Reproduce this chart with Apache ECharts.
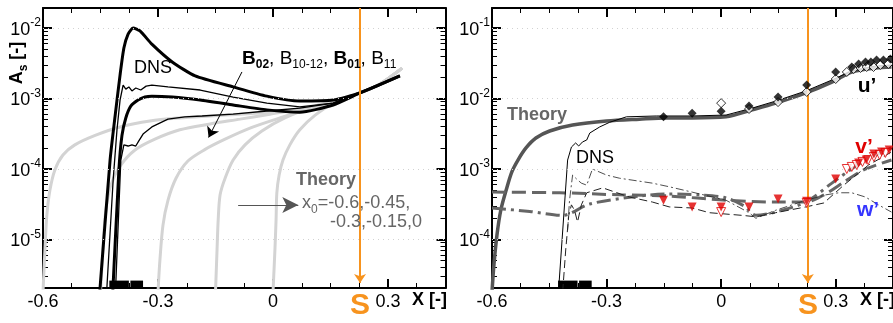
<!DOCTYPE html>
<html>
<head>
<meta charset="utf-8">
<script src="https://cdn.jsdelivr.net/npm/echarts@6/dist/echarts.min.js"></script>
<style>
  html, body { margin: 0; padding: 0; background: #fff; }
  #chart { width: 893px; height: 323px; }
</style>
</head>
<body>
<div id="chart"></div>
<script>
// ---- data: X [-] positions and amplitudes (plain values, drawn on log axes) ----

// left panel, DNS cases
const b02X = [-0.452, -0.425, -0.410, -0.399, -0.389, -0.378, -0.365, -0.347, -0.316, -0.263, -0.203, -0.104, -0.016, 0.070, 0.157, 0.227, 0.331];
const b02Y = [1.8e-6, 1.34e-4, 6.9e-4, 2.15e-3, 5.2e-3, 8.2e-3, 1.0e-2, 9.1e-3, 5.9e-3, 3.3e-3, 2.09e-3, 1.46e-3, 1.08e-3, 9.2e-4, 9.5e-4, 1.2e-3, 2.09e-3];
const b1012X = [-0.434, -0.417, -0.407, -0.399, -0.391, -0.384, -0.376, -0.368, -0.358, -0.345, -0.331, -0.316, -0.274, -0.190, -0.104, -0.016, 0.070, 0.157, 0.227, 0.331];
const b1012Y = [1.8e-6, 7.0e-5, 3.6e-4, 9.5e-4, 1.55e-3, 1.36e-3, 1.46e-3, 1.28e-3, 1.41e-3, 1.32e-3, 1.50e-3, 1.55e-3, 1.46e-3, 1.32e-3, 1.05e-3, 8.6e-4, 7.6e-4, 8.6e-4, 1.2e-3, 2.09e-3];
const b01X = [-0.418, -0.402, -0.394, -0.384, -0.371, -0.352, -0.334, -0.316, -0.263, -0.190, -0.104, -0.016, 0.070, 0.157, 0.227, 0.331];
const b01Y = [1.8e-6, 9.7e-5, 3.0e-4, 5.3e-4, 7.8e-4, 9.5e-4, 1.05e-3, 1.08e-3, 1.05e-3, 9.5e-4, 8.1e-4, 6.9e-4, 6.4e-4, 8.1e-4, 1.2e-3, 2.09e-3];
const b11X = [-0.411, -0.397, -0.389, -0.378, -0.368, -0.358, -0.350, -0.339, -0.316, -0.274, -0.230, -0.185, -0.104, -0.016, 0.070, 0.157, 0.227, 0.331];
const b11Y = [1.8e-6, 1.34e-4, 2.2e-4, 2.12e-4, 2.2e-4, 2.12e-4, 2.5e-4, 3.13e-4, 3.95e-4, 5.1e-4, 5.5e-4, 5.65e-4, 6.0e-4, 6.65e-4, 7.3e-4, 8.6e-4, 1.2e-3, 2.09e-3];

// left panel, theory for x0 = -0.6, -0.45, -0.3, -0.15, 0
const t60X = [-0.6, -0.595, -0.590, -0.582, -0.569, -0.548, -0.517, -0.464, -0.399, -0.321, -0.243, -0.164, -0.086, -0.008, 0.070, 0.149, 0.227, 0.279, 0.337];
const t60Y = [1.8e-6, 7.1e-6, 2.2e-5, 5.0e-5, 9.7e-5, 1.58e-4, 2.2e-4, 3.0e-4, 3.95e-4, 4.8e-4, 5.3e-4, 5.65e-4, 6.0e-4, 6.4e-4, 7.1e-4, 8.6e-4, 1.2e-3, 1.61e-3, 2.7e-3];
const t45X = [-0.45, -0.443, -0.436, -0.423, -0.399, -0.360, -0.308, -0.243, -0.164, -0.086, -0.008, 0.070, 0.149, 0.227, 0.279, 0.337];
const t45Y = [1.8e-6, 8.4e-6, 2.6e-5, 5.9e-5, 1.1e-4, 1.86e-4, 2.65e-4, 3.6e-4, 4.35e-4, 5.1e-4, 6.0e-4, 7.1e-4, 8.6e-4, 1.2e-3, 1.61e-3, 2.7e-3];
const t30X = [-0.3, -0.295, -0.287, -0.274, -0.253, -0.222, -0.177, -0.125, -0.060, 0.018, 0.097, 0.162, 0.227, 0.279, 0.337];
const t30Y = [1.8e-6, 5.1e-6, 1.6e-5, 3.6e-5, 7.4e-5, 1.3e-4, 1.9e-4, 2.65e-4, 3.8e-4, 5.3e-4, 7.3e-4, 9.2e-4, 1.2e-3, 1.61e-3, 2.7e-3];
const t15X = [-0.15, -0.146, -0.143, -0.138, -0.125, -0.104, -0.073, -0.029, 0.031, 0.110, 0.175, 0.227, 0.279, 0.337];
const t15Y = [1.8e-6, 7.1e-6, 1.9e-5, 4.3e-5, 7.4e-5, 1.34e-4, 2.2e-4, 3.46e-4, 5.3e-4, 7.8e-4, 9.8e-4, 1.2e-3, 1.61e-3, 2.7e-3];
const t0X = [0, 0.005, 0.008, 0.010, 0.016, 0.026, 0.044, 0.070, 0.110, 0.162, 0.227, 0.279, 0.337];
const t0Y = [1.8e-6, 7.1e-6, 1.9e-5, 4.57e-5, 8.2e-5, 1.34e-4, 2.2e-4, 3.6e-4, 5.8e-4, 8.9e-4, 1.2e-3, 1.61e-3, 2.7e-3];

// right panel, u' theory and DNS
const thUX = [-0.600, -0.595, -0.587, -0.577, -0.563, -0.548, -0.532, -0.511, -0.485, -0.449, -0.389, -0.300, -0.214, -0.143, -0.076, 0.013, 0.081, 0.143, 0.222, 0.290, 0.342, 0.404, 0.446];
const thUY = [1.8e-5, 4.35e-5, 1.16e-4, 2.6e-4, 5.0e-4, 9.1e-4, 1.34e-3, 1.99e-3, 2.75e-3, 3.46e-3, 4.2e-3, 4.8e-3, 5.1e-3, 5.3e-3, 5.3e-3, 5.5e-3, 6.9e-3, 8.6e-3, 1.2e-2, 1.71e-2, 2.38e-2, 2.71e-2, 2.8e-2];
const dnsUX = [-0.426, -0.402, -0.392, -0.381, -0.373, -0.363, -0.352, -0.344, -0.318, -0.292, -0.248, -0.170, -0.076, 0.013, 0.081, 0.143, 0.222, 0.290, 0.342, 0.404, 0.446];
const dnsUY = [1.8e-5, 1.34e-3, 2.05e-3, 2.34e-3, 2.12e-3, 2.42e-3, 2.58e-3, 3.24e-3, 3.95e-3, 4.6e-3, 5.5e-3, 5.65e-3, 5.65e-3, 5.83e-3, 7.3e-3, 9.2e-3, 1.28e-2, 1.83e-2, 2.46e-2, 2.89e-2, 2.99e-2];

// right panel, v' and w' curves
const thVX = [-0.600, -0.423, -0.266, -0.136, 0.013, 0.143, 0.222, 0.269, 0.321, 0.373, 0.446];
const thVY = [4.7e-4, 4.6e-4, 4.3e-4, 4.14e-4, 3.6e-4, 3.4e-4, 3.4e-4, 4.3e-4, 6.5e-4, 9.7e-4, 1.34e-3];
const thWX = [-0.600, -0.501, -0.415, -0.344, -0.214, -0.136, -0.057, 0.013, 0.060, 0.091, 0.143, 0.222, 0.290, 0.334, 0.386, 0.446];
const thWY = [2.8e-4, 2.5e-4, 2.2e-4, 3.19e-4, 4.14e-4, 4.42e-4, 4.3e-4, 3.9e-4, 2.99e-4, 2.2e-4, 2.45e-4, 3.4e-4, 6.3e-4, 9.4e-4, 1.43e-3, 1.99e-3];
const dnsVX = [-0.415, -0.407, -0.399, -0.392, -0.384, -0.376, -0.366, -0.352, -0.310, -0.240, -0.180, -0.136, -0.076, -0.031, 0.055, 0.091, 0.143, 0.222, 0.269, 0.321, 0.386, 0.446];
const dnsVY = [1.8e-5, 7.1e-5, 2.2e-4, 3.1e-4, 2.6e-4, 1.77e-4, 3.1e-4, 4.6e-4, 5.4e-4, 4.0e-4, 3.4e-4, 2.9e-4, 2.8e-4, 2.4e-4, 2.2e-4, 2.1e-4, 2.4e-4, 2.9e-4, 3.3e-4, 5.9e-4, 1.14e-3, 1.74e-3];
const dnsWX = [-0.402, -0.397, -0.389, -0.376, -0.366, -0.352, -0.337, -0.300, -0.266, -0.180, -0.136, -0.076, 0.013, 0.073, 0.091, 0.143, 0.222, 0.274, 0.308, 0.342, 0.378, 0.412, 0.446];
const dnsWY = [1.36e-4, 3.6e-4, 8.2e-4, 7.0e-4, 6.3e-4, 5.9e-4, 1.0e-3, 8.2e-4, 7.4e-4, 6.3e-4, 5.6e-4, 4.7e-4, 3.6e-4, 2.4e-4, 2.0e-4, 2.6e-4, 3.6e-4, 4.3e-4, 4.6e-4, 4.6e-4, 4.0e-4, 3.1e-4, 2.45e-4];

// right panel, measurements
const uFillX = [-0.151, -0.076, 0, 0.073, 0.149, 0.224, 0.300, 0.342, 0.360, 0.378, 0.392, 0.407, 0.425, 0.443];
const uFillY = [5.5e-3, 6.2e-3, 6.6e-3, 7.8e-3, 1.05e-2, 1.55e-2, 2.38e-2, 2.8e-2, 3.09e-2, 3.3e-2, 3.3e-2, 3.52e-2, 3.52e-2, 3.63e-2];
const uOpenX = [0, 0.073, 0.149, 0.224, 0.300, 0.329, 0.347, 0.365, 0.381, 0.399, 0.417, 0.438];
const uOpenY = [8.6e-3, 7.1e-3, 8.9e-3, 1.24e-2, 1.89e-2, 2.38e-2, 2.62e-2, 2.71e-2, 2.8e-2, 2.8e-2, 2.99e-2, 3.09e-2];
const vFillX = [-0.151, -0.076, 0, 0.073, 0.149, 0.224, 0.300, 0.360, 0.380, 0.400, 0.420, 0.440];
const vFillY = [3.6e-4, 2.9e-4, 2.9e-4, 2.9e-4, 3.75e-4, 3.5e-4, 7.2e-4, 1.22e-3, 1.34e-3, 1.63e-3, 1.74e-3, 1.86e-3];
const vOpenX = [0, 0.224, 0.329, 0.342, 0.355, 0.370, 0.385, 0.400, 0.415, 0.430];
const vOpenY = [2.45e-4, 3.3e-4, 1.0e-3, 1.07e-3, 1.14e-3, 1.26e-3, 1.34e-3, 1.48e-3, 1.58e-3, 1.69e-3];

// separation point, forcing strip, axis ranges and ticks
const sepX = 0.227;
const stripSegments = [[-0.427, -0.376], [-0.372, -0.339]];
const xMajor = [-0.6, -0.3, 0, 0.3];
const xMinor = [-0.525, -0.45, -0.375, -0.225, -0.15, -0.075, 0.075, 0.15, 0.225, 0.375];
const xTickLabels = ['-0.6', '-0.3', '0', '0.3'];
const yLogRange = [[-5.688, -1.716], [-4.688, -0.716]];
const yDecades = [[-5, -4, -3, -2], [-4, -3, -2, -1]];

const FONT = '"Liberation Sans", Arial, Helvetica, sans-serif';
const ORANGE = '#f7931e';

const pts = (xs, ys) => xs.map((x, i) => [x, Math.log10(ys[i])]);

function minorLog(g) {
  const [lo, hi] = yLogRange[g];
  const out = [];
  for (let n = Math.floor(lo); n < Math.ceil(hi); n++) {
    for (let k = 2; k <= 9; k++) {
      const v = n + Math.log10(k);
      if (v > lo && v < hi) out.push(v);
    }
  }
  return out;
}

function xAxes(g) {
  const base = { gridIndex: g, type: 'value', min: -0.6, max: 0.45, splitLine: { show: false } };
  const line = { show: true, onZero: false, lineStyle: { color: '#000', width: 2 } };
  const noLine = { show: false, onZero: false };
  const major = { show: true, inside: true, length: 9, customValues: xMajor, lineStyle: { color: '#000', width: 2 } };
  const minor = { show: true, inside: true, length: 5, customValues: xMinor, lineStyle: { color: '#000', width: 1 } };
  return [
    { ...base, position: 'bottom', axisLine: line, axisTick: major,
      axisLabel: { show: true, customValues: xMajor, margin: 5, color: '#000', fontSize: 18, fontFamily: FONT,
        formatter: v => xTickLabels[xMajor.findIndex(m => Math.abs(m - v) < 1e-6)] } },
    { ...base, position: 'bottom', axisLine: noLine, axisTick: minor, axisLabel: { show: false } },
    { ...base, position: 'top', axisLine: line, axisTick: major, axisLabel: { show: false } },
    { ...base, position: 'top', axisLine: noLine, axisTick: minor, axisLabel: { show: false } },
  ];
}

function yAxes(g) {
  const [lo, hi] = yLogRange[g];
  const base = { gridIndex: g, type: 'value', min: lo, max: hi, splitLine: { show: false } };
  const line = { show: true, onZero: false, lineStyle: { color: '#000', width: 2 } };
  const noLine = { show: false, onZero: false };
  const major = { show: true, inside: true, length: 9, customValues: yDecades[g], lineStyle: { color: '#000', width: 2 } };
  const minor = { show: true, inside: true, length: 5, customValues: minorLog(g), lineStyle: { color: '#000', width: 1 } };
  return [
    { ...base, position: 'left', axisLine: line, axisTick: major,
      axisLabel: { show: true, customValues: yDecades[g], margin: 2,
        formatter: v => '{a|10}{b|' + Math.round(v) + '}',
        rich: {
          a: { fontSize: 18, fontFamily: FONT, color: '#000', lineHeight: 22, verticalAlign: 'bottom' },
          b: { fontSize: 12, fontFamily: FONT, color: '#000', lineHeight: 12, verticalAlign: 'top' },
        } } },
    { ...base, position: 'left', axisLine: noLine, axisTick: minor, axisLabel: { show: false } },
    { ...base, position: 'right', axisLine: line, axisTick: major, axisLabel: { show: false } },
    { ...base, position: 'right', axisLine: noLine, axisTick: minor, axisLabel: { show: false } },
  ];
}

function line(g, xs, ys, lineStyle, extra) {
  return Object.assign({
    type: 'line', xAxisIndex: g * 4, yAxisIndex: g * 4, data: pts(xs, ys),
    showSymbol: false, symbol: 'none', silent: true, lineStyle: lineStyle,
  }, extra || {});
}

function markers(g, xs, ys, symbol, size, itemStyle, extra) {
  return Object.assign({
    type: 'scatter', xAxisIndex: g * 4, yAxisIndex: g * 4, data: pts(xs, ys),
    symbol: symbol, symbolSize: size, itemStyle: itemStyle, silent: true, z: 5,
  }, extra || {});
}

function decadeLines(g) {
  return {
    silent: true, symbol: 'none', label: { show: false },
    lineStyle: { color: '#d2d2d2', type: [1, 4], width: 1 },
    data: yDecades[g].map(v => ({ yAxis: v })),
  };
}

function sepArrow(g) {
  const [lo, hi] = yLogRange[g];
  return {
    silent: true, symbol: ['none', 'arrow'], symbolSize: 9, label: { show: false },
    lineStyle: { color: ORANGE, width: 2, type: 'solid' },
    data: [[{ coord: [sepX, hi] }, { coord: [sepX, lo + 0.07] }]],
  };
}

function strip(g) {
  const lo = yLogRange[g][0];
  return {
    silent: true, itemStyle: { color: '#000' }, label: { show: false },
    data: stripSegments.map(([a, b]) => [{ coord: [a, lo] }, { coord: [b, lo + 0.105] }]),
  };
}

const greyTheory = { color: '#d3d3d3', width: 3 };

const series = [
  // left: theory
  line(0, t60X, t60Y, greyTheory, { smooth: 0.3, z: 1, markLine: decadeLines(0) }),
  line(0, t45X, t45Y, greyTheory, { smooth: 0.3, z: 1 }),
  line(0, t30X, t30Y, greyTheory, { smooth: 0.3, z: 1 }),
  line(0, t15X, t15Y, greyTheory, { smooth: 0.3, z: 1 }),
  line(0, t0X, t0Y, greyTheory, { smooth: 0.3, z: 1,
    markLine: {
      silent: true, symbol: ['none', 'arrow'], symbolSize: [12, 16], label: { show: false },
      lineStyle: { color: '#555', width: 1.2, type: 'solid' },
      data: [[{ coord: [-0.091, Math.log10(3.08e-5)] }, { coord: [0.066, Math.log10(3.08e-5)] }]],
    } }),
  // left: DNS
  line(0, b02X, b02Y, { color: '#000', width: 3 }, { smooth: 0.2, z: 3,
    markLine: {
      silent: true, symbol: ['none', 'arrow'], symbolSize: 10, label: { show: false },
      lineStyle: { color: '#000', width: 1, type: 'solid' },
      data: [[{ coord: [-0.081, Math.log10(2.38e-3)] }, { coord: [-0.168, Math.log10(2.8e-4)] }]],
    } }),
  line(0, b1012X, b1012Y, { color: '#000', width: 1.3 }, { z: 3 }),
  line(0, b01X, b01Y, { color: '#000', width: 3 }, { smooth: 0.2, z: 3 }),
  line(0, b11X, b11Y, { color: '#000', width: 1.3 }, { z: 3, markArea: strip(0) }),
  line(0, [sepX, sepX], [1e-6, 1e-6], { width: 0 }, { z: 6, markLine: sepArrow(0) }),

  // right: curves
  line(1, thUX, thUY, { color: '#555', width: 3.5 }, { smooth: 0.3, z: 2, markLine: decadeLines(1) }),
  line(1, dnsUX, dnsUY, { color: '#000', width: 1 }, { z: 3 }),
  line(1, thVX, thVY, { color: '#666', width: 3, type: [14, 6] }, { smooth: 0.3, z: 2 }),
  line(1, thWX, thWY, { color: '#666', width: 3, type: [14, 5, 3, 5] }, { smooth: 0.3, z: 2, markArea: strip(1) }),
  line(1, dnsVX, dnsVY, { color: '#222', width: 1, type: [8, 4] }, { z: 3 }),
  line(1, dnsWX, dnsWY, { color: '#222', width: 0.8, type: [8, 3, 2, 3] }, { z: 3 }),
  // right: measurements
  markers(1, uOpenX, uOpenY, 'diamond', 9, { color: '#fff', borderColor: '#000', borderWidth: 1 }),
  markers(1, uFillX, uFillY, 'diamond', 9, { color: '#000' }),
  markers(1, vOpenX, vOpenY, 'triangle', 9, { color: '#fff', borderColor: '#e00000', borderWidth: 1 }, { symbolRotate: 180 }),
  markers(1, vFillX, vFillY, 'triangle', 9, { color: '#e00000' }, { symbolRotate: 180 }),
  line(1, [sepX, sepX], [1e-5, 1e-5], { width: 0 }, { z: 6, markLine: sepArrow(1) }),
];

function txt(x, y, text, opts) {
  return { type: 'text', x: x, y: y, silent: true, z: 20,
    style: Object.assign({ text: text, fontFamily: FONT, fontSize: 18, fill: '#000', align: 'center', verticalAlign: 'middle' }, opts || {}) };
}

// rich styles for graphic text (zrender uses fill, not color)
const subRich = (size, fill) => ({
  n: { fontSize: size, fontFamily: FONT, fill: fill, fontWeight: 'normal', lineHeight: 22, verticalAlign: 'top' },
  s: { fontSize: 12, fontFamily: FONT, fill: fill, fontWeight: 'normal', lineHeight: 22, verticalAlign: 'top', padding: [10, 0, 0, 0] },
  bn: { fontSize: size, fontFamily: FONT, fill: fill, fontWeight: 'bold', lineHeight: 22, verticalAlign: 'top' },
  bs: { fontSize: 12, fontFamily: FONT, fill: fill, fontWeight: 'bold', lineHeight: 22, verticalAlign: 'top', padding: [10, 0, 0, 0] },
});

const graphic = [
  // left panel
  { type: 'text', x: 19, y: 63, rotation: Math.PI / 2, silent: true, z: 20,
    style: { text: '{bn|A}{bs|s}{bn| [-]}', rich: subRich(18, '#000'), align: 'center', verticalAlign: 'middle' } },
  txt(153, 68, 'DNS'),
  { type: 'text', x: 242, y: 60, silent: true, z: 20,
    style: { text: '{bn|B}{bs|02}{n|, B}{s|10-12}{n|, }{bn|B}{bs|01}{n|, B}{s|11}', rich: subRich(19, '#000'), align: 'left', verticalAlign: 'middle' } },
  txt(326, 180, 'Theory', { fontWeight: 'bold', fill: '#666' }),
  { type: 'text', x: 302, y: 205, silent: true, z: 20,
    style: { text: '{n|x}{s|0}{n|=-0.6,-0.45,}', rich: subRich(18, '#666'), align: 'left', verticalAlign: 'middle' } },
  txt(330, 222, '-0.3,-0.15,0', { fill: '#666', align: 'left' }),
  txt(412, 300, 'X [-]', { fontWeight: 'bold', align: 'left' }),
  txt(360, 306, 'S', { fontWeight: 'bold', fill: ORANGE, fontSize: 30 }),
  // right panel
  txt(537, 115, 'Theory', { fontWeight: 'bold', fill: '#666' }),
  txt(595, 158, 'DNS'),
  txt(867, 86, 'u\u2019', { fontWeight: 'bold', fontSize: 21 }),
  txt(864, 147, 'v\u2019', { fontWeight: 'bold', fontSize: 21, fill: '#e00000' }),
  txt(868, 210, 'w\u2019', { fontWeight: 'bold', fontSize: 21, fill: '#3535ff' }),
  txt(860, 300, 'X [-]', { fontWeight: 'bold', align: 'left' }),
  txt(808, 306, 'S', { fontWeight: 'bold', fill: ORANGE, fontSize: 30 }),
];

const chart = echarts.init(document.getElementById('chart'), null, { renderer: 'canvas' });
chart.setOption({
  animation: false,
  backgroundColor: '#fff',
  grid: [
    { left: 43, top: 8, width: 402.5, height: 280 },
    { left: 492, top: 8, width: 402.5, height: 280 },
  ],
  xAxis: [...xAxes(0), ...xAxes(1)],
  yAxis: [...yAxes(0), ...yAxes(1)],
  series: series,
  graphic: graphic,
});
</script>
</body>
</html>
